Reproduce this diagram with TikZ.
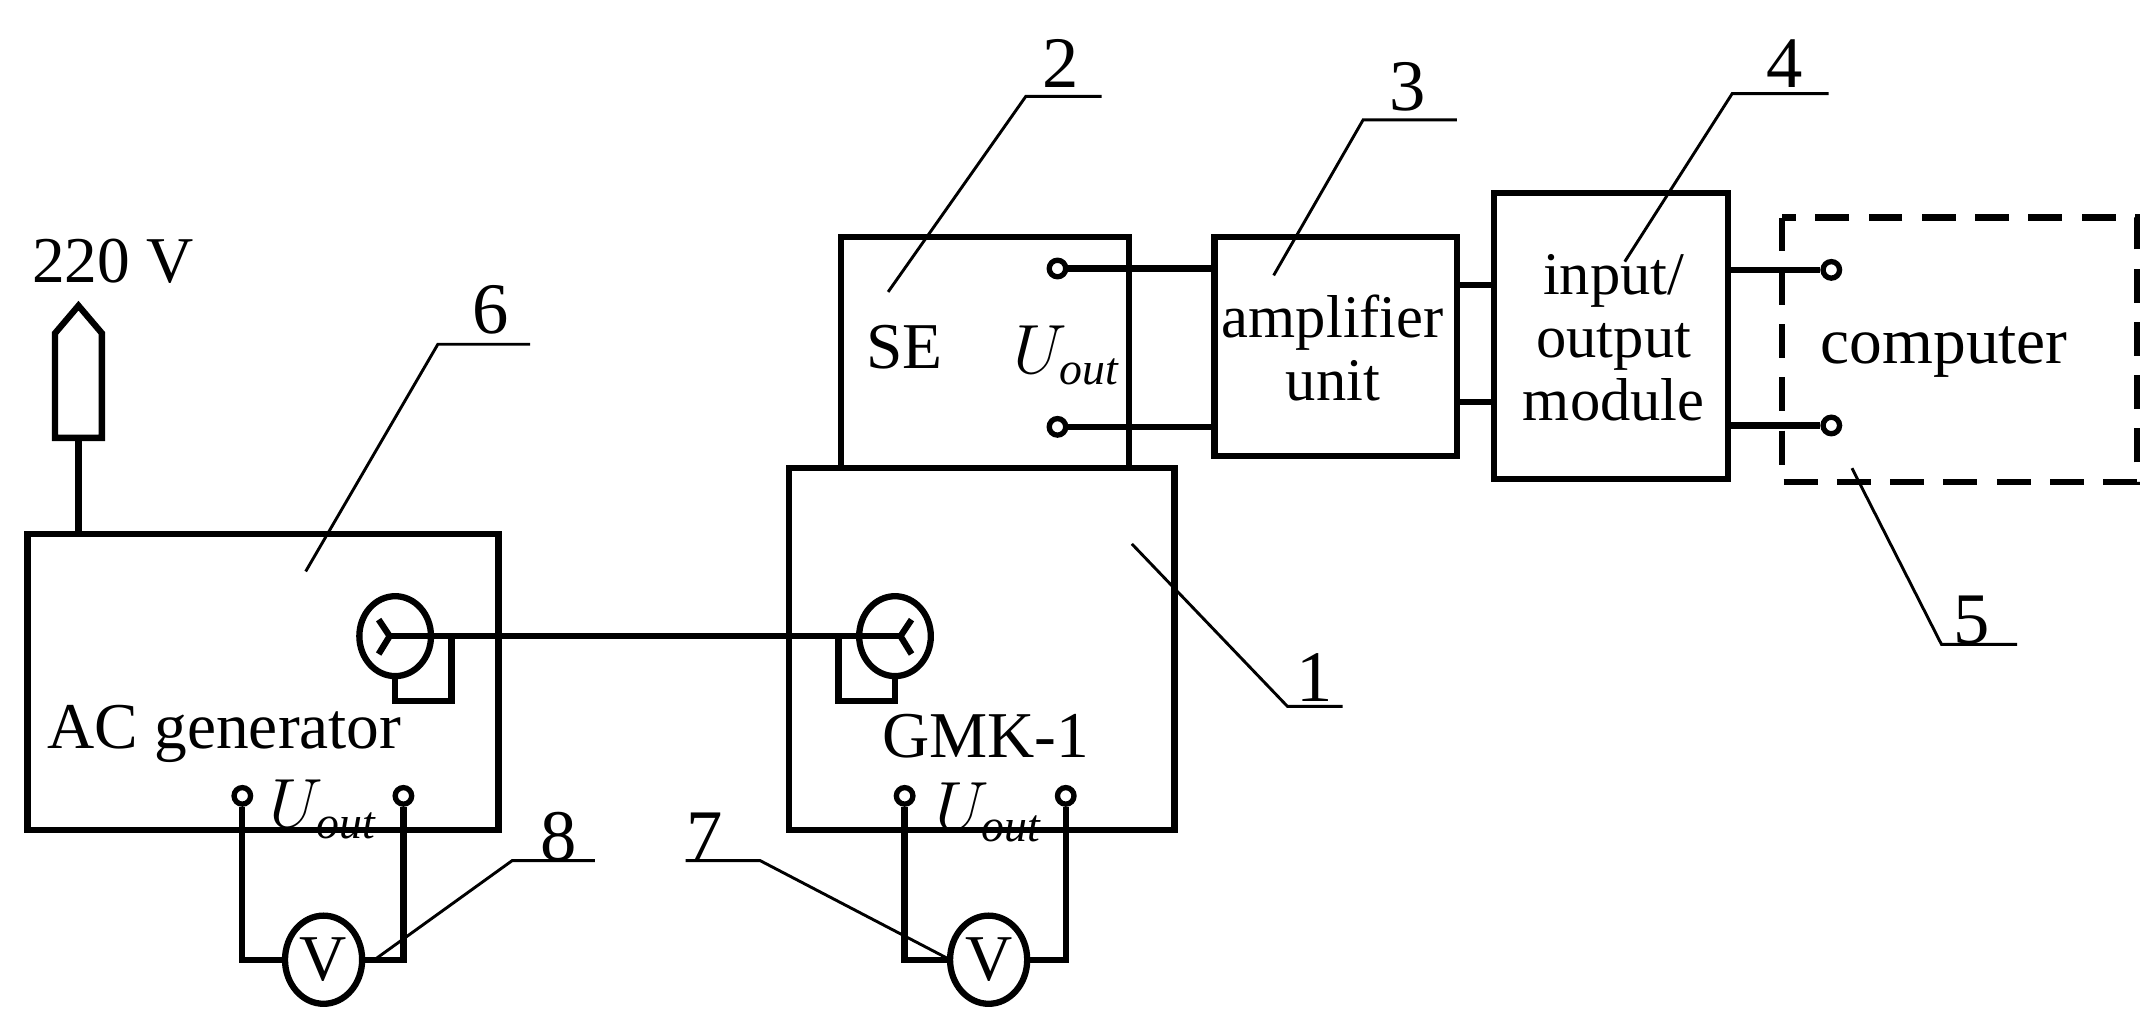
\documentclass[tikz,border=0pt]{standalone}
\usepackage{fontspec}
\setmainfont{Liberation Serif}
\usetikzlibrary{positioning,calc,shapes.geometric}

\tikzset{
  blk/.style={draw, line width=1.3pt},
  wire/.style={line width=1.3pt},
  lead/.style={line width=0.6pt},
  term/.style={circle, draw, line width=1.1pt, fill=white, inner sep=0pt, minimum size=0.12cm},
  meter/.style={ellipse, draw, line width=1.3pt, fill=white, inner sep=0pt, minimum width=0.56cm, minimum height=0.64cm},
  txt/.style={font=\fontsize{13.5}{15}\selectfont, inner sep=0pt},
  btxt/.style={font=\fontsize{12.5}{14}\selectfont, inner sep=0pt},
  num/.style={font=\fontsize{15}{17}\selectfont, inner sep=0pt}
}
\newcommand{\uout}{$U_{\mathit{out}}$}

\begin{document}
\begin{tikzpicture}[x=0.01cm, y=-0.01cm]
  \useasboundingbox (0,0) rectangle (1560,742);
  % blocks
  \draw[blk] (20,388) rectangle (362,603);
  \draw[blk] (573,340) rectangle (853,603);
  \draw[blk] (611,172) rectangle (820,340);
  \draw[blk] (882,172) rectangle (1058,331);
  \draw[blk] (1085,140) rectangle (1255,348);
  \draw[blk, dash pattern=on 7pt off 4pt] (1294,158) rectangle (1552,350);
  \node[txt] (acgen) at (163,533) {AC generator};
  \node[txt] (gmk) at (716,535) {GMK-1};
  \node[txt] (se) at (657,252) {SE};
  \node[txt] (seu) at (775,258) {\uout};
  \node[btxt, align=center] (amp) at (968,253) {amplifier\\[-1pt]unit};
  \node[btxt, align=center] (io) at (1172,245) {input/\\[-1pt]output\\[-1pt]module};
  \node[txt] (pc) at (1412,256) {computer};
  % mains plug
  \node[txt] (mains) at (82,190) {220 V};
  \draw[blk] (40,318) -- (40,242) -- (57,222) -- (74,242) -- (74,318) -- cycle;
  \draw[wire] (57,318) -- (57,388);
  % coaxial connectors
  \node[meter, minimum width=0.52cm, minimum height=0.58cm] (cA) at (287,462) {};
  \node[meter, minimum width=0.52cm, minimum height=0.58cm] (cG) at (650,462) {};
  \draw[wire] (283,462) -- (654,462);
  \draw[wire] (283,462) -- (275,450) (283,462) -- (275,475);
  \draw[wire] (654,462) -- (662,450) (654,462) -- (662,475);
  \draw[wire] (cA.south) -- ++(0,16) -| (328,462);
  \draw[wire] (cG.south) -- ++(0,16) -| (609,462);
  % SE outputs
  \node[term] (se1) at (768,195) {};
  \node[term] (se2) at (768,310) {};
  \draw[wire] (se1) -- (882,195);
  \draw[wire] (se2) -- (882,310);
  \draw[wire] (1058,207) -- (1085,207);
  \draw[wire] (1058,292) -- (1085,292);
  \node[term] (pc1) at (1330,196) {};
  \node[term] (pc2) at (1330,309) {};
  \draw[wire] (1255,196) -- (pc1);
  \draw[wire] (1255,309) -- (pc2);
  % voltmeters
  \node[term] (a1) at (176,578) {};
  \node[term] (a2) at (293,578) {};
  \node[txt] (au) at (235,588) {\uout};
  \node[meter] (v8) at (235,697) {\fontsize{13.5}{15}\selectfont V};
  \draw[wire] (a1) |- (v8.west);
  \draw[wire] (a2) |- (v8.east);
  \node[term] (g1) at (657,578) {};
  \node[term] (g2) at (774,578) {};
  \node[txt] (gu) at (718,590) {\uout};
  \node[meter] (v7) at (718,697) {\fontsize{13.5}{15}\selectfont V};
  \draw[wire] (g1) |- (v7.west);
  \draw[wire] (g2) |- (v7.east);
  % callouts
  \node[num] (n1) at (955,492) {1};
  \draw[lead] (822,395) -- (935,513) -- (975,513);
  \node[num] (n2) at (770,46) {2};
  \draw[lead] (645,212) -- (745,70) -- (800,70);
  \node[num] (n3) at (1022,63) {3};
  \draw[lead] (925,200) -- (990,87) -- (1058,87);
  \node[num] (n4) at (1296,46) {4};
  \draw[lead] (1180,190) -- (1258,68) -- (1328,68);
  \node[num] (n5) at (1432,450) {5};
  \draw[lead] (1345,340) -- (1410,468) -- (1465,468);
  \node[num] (n6) at (356,225) {6};
  \draw[lead] (222,415) -- (318,250) -- (385,250);
  \node[num] (n8) at (406,608) {8};
  \draw[lead] (272,697) -- (372,625) -- (432,625);
  \node[num] (n7) at (512,608) {7};
  \draw[lead] (690,697) -- (552,625) -- (498,625);
\end{tikzpicture}
\end{document}
